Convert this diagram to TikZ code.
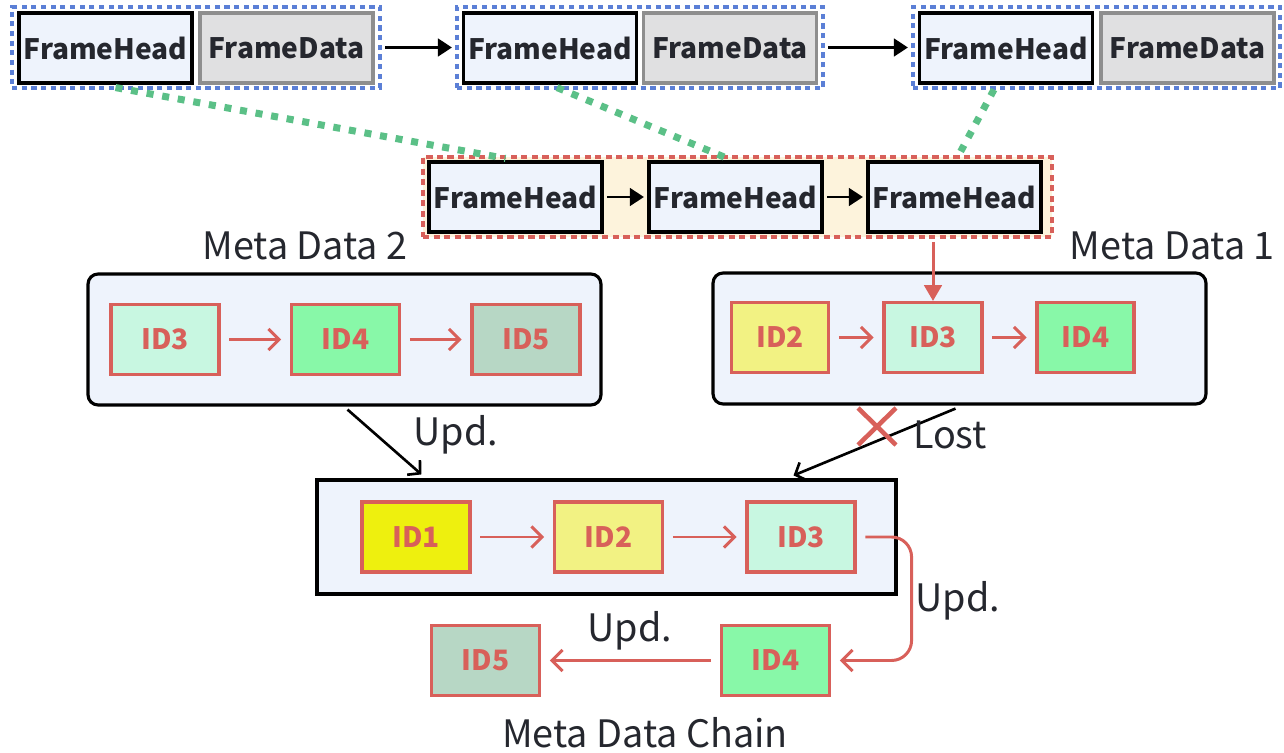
\documentclass[tikz,border=0pt]{standalone}
\usepackage{fontspec}
\setmainfont{Noto Sans CJK SC}
\usetikzlibrary{arrows.meta,positioning,backgrounds,calc}

\definecolor{hblue}{HTML}{EEF3FC}
\definecolor{dgray}{HTML}{E0E0E1}
\definecolor{dline}{HTML}{8E8E8E}
\definecolor{gblue}{HTML}{5B7FD6}
\definecolor{ggreen}{HTML}{5BC087}
\definecolor{rline}{HTML}{D8605A}
\definecolor{beige}{HTML}{FDF3DC}
\definecolor{ink}{HTML}{25272E}
\definecolor{cidA}{HTML}{EEF00E}
\definecolor{cidB}{HTML}{F2F283}
\definecolor{cidC}{HTML}{C8F7E1}
\definecolor{cidD}{HTML}{88F8A8}
\definecolor{cidE}{HTML}{B7D7C5}

\begin{document}
\begin{tikzpicture}[x=0.02cm,y=-0.02cm,
  head/.style={draw=black,line width=1.8pt,fill=hblue,minimum width=3.46cm,minimum height=1.4cm,inner sep=0pt,text=ink,font=\fontsize{16}{18}\selectfont\bfseries},
  fdata/.style={head,draw=dline,fill=dgray},
  grp/.style={draw=gblue,line width=1.8pt,dash pattern=on 3pt off 2.5pt,inner sep=0pt},
  idbox/.style={draw=rline,line width=1.8pt,minimum width=2.16cm,minimum height=1.4cm,inner sep=0pt,text=rline,font=\fontsize{16}{18}\selectfont\bfseries},
  mdbox/.style={draw=black,line width=1.8pt,fill=hblue,inner sep=0pt},
  lbl/.style={text=ink,font=\fontsize{21.5}{24}\selectfont},
  rarr/.style={draw=rline,line width=1.7pt,-{Straight Barb[length=6pt,width=12pt]},shorten <=5pt,shorten >=5pt},
  barr/.style={draw=black,line width=1.7pt,-{Triangle[length=8pt,width=10pt]},shorten <=2pt,shorten >=2pt},
  karr/.style={draw=black,line width=1.5pt,-{Straight Barb[length=5pt,width=11pt]}},
  gdot/.style={draw=ggreen,line width=4pt,dash pattern=on 4pt off 5pt}]
\useasboundingbox (0,0) rectangle (1284,753);

% 顶部三组帧
\node[head] (h1) at (105.5,48) {FrameHead};
\node[fdata] (d1) at (286.5,48) {FrameData};
\node[head] (h2) at (550,48) {FrameHead};
\node[fdata] (d2) at (730,48) {FrameData};
\node[head] (h3) at (1006,48) {FrameHead};
\node[fdata] (d3) at (1187.5,48) {FrameData};
\node[grp,minimum width=7.36cm,minimum height=1.62cm] (g1) at (196,47.5) {};
\node[grp,minimum width=7.32cm,minimum height=1.62cm] (g2) at (640,47.5) {};
\node[grp,minimum width=7.34cm,minimum height=1.62cm] (g3) at (1096.5,47.5) {};
\draw[barr] (g1.east) -- (g2.west);
\draw[barr] (g2.east) -- (g3.west);

% 中间的帧头链
\node[draw=rline,line width=2.1pt,dash pattern=on 3.5pt off 2.5pt,fill=beige,minimum width=12.58cm,minimum height=1.6cm] (mf) at (737.5,197) {};
\node[head] (m1) at (515.5,197) {FrameHead};
\node[head] (m2) at (735.5,197) {FrameHead};
\node[head] (m3) at (954.5,197) {FrameHead};
\draw[barr] (m1) -- (m2);
\draw[barr] (m2) -- (m3);

% 绿色虚线
\draw[gdot] ($(h1.south)+(10,3)$) -- ($(m1.north)+(-10,-2)$);
\draw[gdot] ($(h2.south)+(7,3)$) -- ($(m2.north)+(-8,-2)$);
\draw[gdot] ($(h3.south)+(-12,5)$) -- ($(m3.north)+(4,-5)$);

% Meta Data 2
\node[lbl] (t2) at (305,246) {Meta Data 2};
\node[mdbox,rounded corners=0.2cm,minimum width=10.26cm,minimum height=2.62cm] (md2) at (344.5,339.5) {};
\node[idbox,fill=cidC] (p3) at (165,339.5) {ID3};
\node[idbox,fill=cidD] (p4) at (345.5,339.5) {ID4};
\node[idbox,fill=cidE] (p5) at (526,339.5) {ID5};
\draw[rarr] (p3) -- (p4);
\draw[rarr] (p4) -- (p5);

% Meta Data 1
\node[lbl,anchor=east] (t1) at (1281,246) {Meta Data 1};
\node[mdbox,rounded corners=0.2cm,minimum width=9.86cm,minimum height=2.62cm] (md1) at (959.5,338.5) {};
\node[idbox,fill=cidB,minimum width=1.94cm] (q2) at (780,337.5) {ID2};
\node[idbox,fill=cidC,minimum width=1.96cm] (q3) at (933,337.5) {ID3};
\node[idbox,fill=cidD,minimum width=1.94cm] (q4) at (1085.5,337.5) {ID4};
\draw[rarr] (q2) -- (q3);
\draw[rarr] (q3) -- (q4);
\draw[draw=rline,line width=1.7pt,-{Triangle[length=9pt,width=10pt]}] (q3.north |- mf.south) ++(0,3) -- (q3.north);

% 合并后的链
\node[mdbox,minimum width=11.58cm,minimum height=2.28cm] (ch) at (606.5,537) {};
\node[idbox,fill=cidA] (c1) at (416,537) {ID1};
\node[idbox,fill=cidB] (c2) at (608.5,537) {ID2};
\node[idbox,fill=cidC] (c3) at (801,537) {ID3};
\node[idbox,fill=cidD] (c4) at (775.5,660.5) {ID4};
\node[idbox,fill=cidE] (c5) at (485.5,660.5) {ID5};
\draw[rarr] (c1) -- (c2);
\draw[rarr] (c2) -- (c3);
\draw[rarr,rounded corners=0.4cm] (c3.east) -- ++(55,0) |- (c4.east);
\draw[rarr] (c4) -- (c5);
\node[lbl] (u3) at (958,601) {Upd.};
\node[lbl] (u4) at (630,631) {Upd.};
\node[lbl] (tc) at (645,733) {Meta Data Chain};

% 更新与丢失
\draw[karr] ($(md2.south)+(3,3)$) -- ($(ch.north west)+(106,-4)$);
\node[lbl] (u1) at (456,435) {Upd.};
\draw[karr] ($(md1.south)+(-4,3)$) -- ($(ch.north east)+(-104,-3)$);
\draw[draw=rline,line width=2.6pt] (858,408) -- (896,445) (896,408) -- (858,445);
\node[lbl] (lost) at (950,435) {Lost};
\end{tikzpicture}
\end{document}
